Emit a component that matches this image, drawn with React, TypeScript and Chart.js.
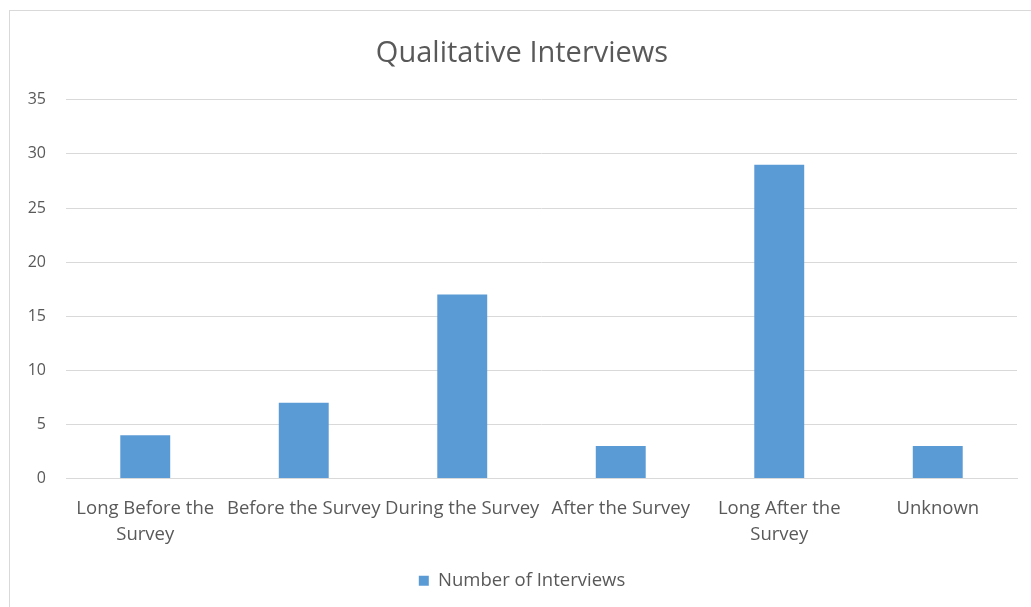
import React, { useEffect, useRef } from "react";
import { Chart, registerables } from "chart.js";

Chart.register(...registerables);

const categories: (string | string[])[] = [
  ["Long Before the", "Survey"],
  "Before the Survey",
  "During the Survey",
  "After the Survey",
  ["Long After the", "Survey"],
  "Unknown",
];
const interviews = [4, 7, 17, 3, 29, 3];
const seriesName = "Number of Interviews";
const chartTitle = "Qualitative Interviews";

export default function App() {
  const ref = useRef<HTMLCanvasElement>(null);
  useEffect(() => {
    if (!ref.current) return;
    const font = "'Open Sans', sans-serif";
    const chart = new Chart(ref.current, {
      type: "bar",
      data: {
        labels: categories,
        datasets: [
          {
            label: seriesName,
            data: interviews,
            backgroundColor: "#5B9BD5",
            borderWidth: 0,
            barPercentage: 0.63,
            categoryPercentage: 0.5,
          },
        ],
      },
      options: {
        animation: false,
        responsive: false,
        maintainAspectRatio: false,
        layout: { padding: { left: 17, right: 14, top: 0, bottom: 7 } },
        plugins: {
          title: {
            display: true,
            text: chartTitle,
            color: "#595959",
            font: { family: font, size: 29, weight: "normal", lineHeight: 1.2 },
            padding: { top: 25, bottom: 29 },
          },
          legend: {
            position: "bottom",
            labels: {
              color: "#595959",
              font: { family: font, size: 18.5 },
              boxWidth: 10,
              boxHeight: 10,
              padding: 10,
            },
          },
          tooltip: { enabled: false },
        },
        scales: {
          x: {
            grid: { display: false, drawTicks: false },
            border: { color: "#d9d9d9", width: 1 },
            ticks: {
              color: "#595959",
              font: { family: font, size: 18.5, lineHeight: 1.4 },
              padding: 17,
              maxRotation: 0,
              autoSkip: false,
            },
            afterFit: (s: any) => {
              s.height = 83;
            },
          },
          y: {
            min: 0,
            max: 35,
            grid: { color: "#d9d9d9", drawTicks: false },
            border: { display: false },
            ticks: {
              stepSize: 5,
              color: "#595959",
              font: { family: font, size: 16 },
              padding: 20,
            },
            afterFit: (s: any) => {
              s.width = 39;
            },
          },
        },
      },
    });
    return () => chart.destroy();
  }, []);
  return (
    <div
      style={{
        position: "fixed",
        left: 9,
        top: 10,
        right: 0,
        bottom: 0,
        borderTop: "1px solid #d9d9d9",
        borderLeft: "1px solid #d9d9d9",
        background: "#fff",
      }}
    >
      <canvas ref={ref} width={1021} height={596} style={{ display: "block" }} />
    </div>
  );
}
